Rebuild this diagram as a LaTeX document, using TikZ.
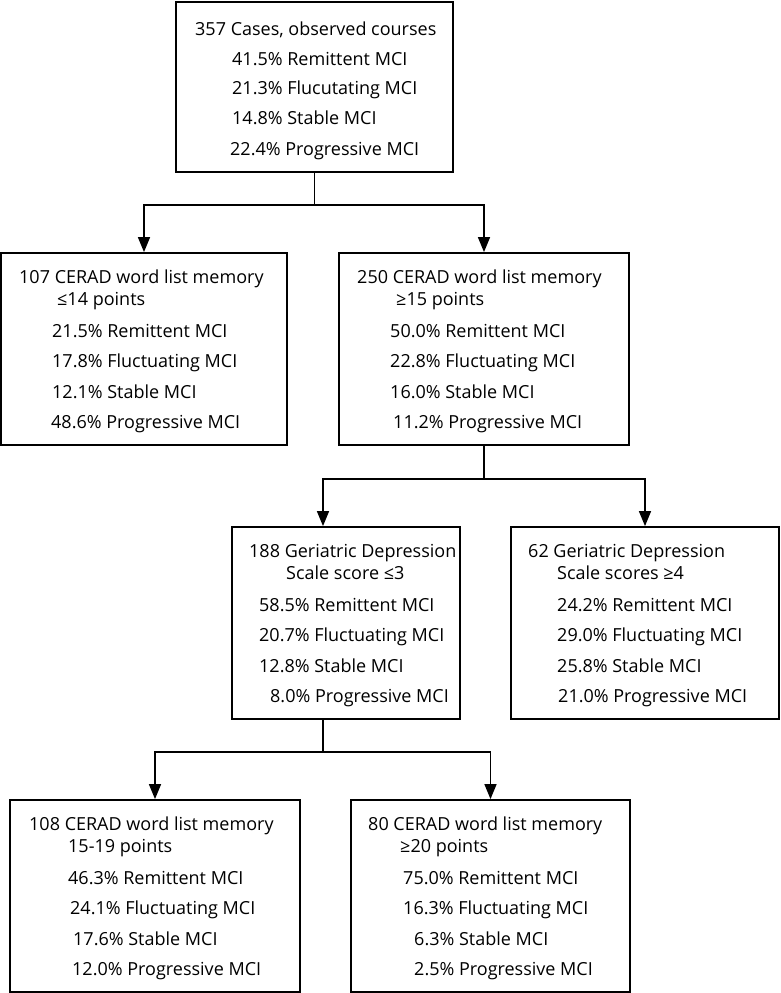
\documentclass[tikz,border=0pt]{standalone}
\usepackage{fontspec}
\setmainfont{Open Sans}
\usetikzlibrary{arrows.meta}
\begin{document}
\begin{tikzpicture}[x=1pt,y=-1pt,
  box/.style 2 args={draw, line width=1.8pt, inner sep=0pt, minimum width=#1, minimum height=#2},
  txt/.style={anchor=base west, inner sep=0pt, font=\fontsize{18}{22}\selectfont},
  conn/.style={line width=1.5pt},
  arr/.style={conn, -{Triangle[length=15pt,width=12pt]}}]
\useasboundingbox (0,0) rectangle (781,993);
% boxes
\node[box={277pt}{170pt}] (b1) at (314.5,87) {};
\node[box={286pt}{192pt}] (b2) at (144,349) {};
\node[box={290pt}{192pt}] (b3) at (484,349) {};
\node[box={228pt}{192pt}] (b4) at (346,623) {};
\node[box={268pt}{192pt}] (b5) at (645,623) {};
\node[box={290pt}{192pt}] (b6) at (155,896) {};
\node[box={279pt}{192pt}] (b7) at (490.5,896) {};
% box 1
\node[txt] (t1a) at (195,35) {357 Cases, observed courses};
\node[txt] (t1b) at (232,65) {41.5\% Remittent MCI};
\node[txt] (t1c) at (232,94) {21.3\% Flucutating MCI};
\node[txt] (t1d) at (232,124) {14.8\% Stable MCI};
\node[txt] (t1e) at (230,155) {22.4\% Progressive MCI};
% box 2
\node[txt] (t2a) at (19,283) {107 CERAD word list memory};
\node[txt] (t2b) at (57,305) {≤14 points};
\node[txt] (t2c) at (52,337) {21.5\% Remittent MCI};
\node[txt] (t2d) at (52,367) {17.8\% Fluctuating MCI};
\node[txt] (t2e) at (52,398) {12.1\% Stable MCI};
\node[txt] (t2f) at (51,428) {48.6\% Progressive MCI};
% box 3
\node[txt] (t3a) at (357,283) {250 CERAD word list memory};
\node[txt] (t3b) at (396,305) {≥15 points};
\node[txt] (t3c) at (390,337) {50.0\% Remittent MCI};
\node[txt] (t3d) at (390,367) {22.8\% Fluctuating MCI};
\node[txt] (t3e) at (390,398) {16.0\% Stable MCI};
\node[txt] (t3f) at (393,428) {11.2\% Progressive MCI};
% box 4
\node[txt] (t4a) at (249,557) {188 Geriatric Depression};
\node[txt] (t4b) at (286,579) {Scale score ≤3};
\node[txt] (t4c) at (259,611) {58.5\% Remittent MCI};
\node[txt] (t4d) at (259,641) {20.7\% Fluctuating MCI};
\node[txt] (t4e) at (259,672) {12.8\% Stable MCI};
\node[txt] (t4f) at (270,702) {8.0\% Progressive MCI};
% box 5
\node[txt] (t5a) at (528,557) {62 Geriatric Depression};
\node[txt] (t5b) at (557,579) {Scale scores ≥4};
\node[txt] (t5c) at (557,611) {24.2\% Remittent MCI};
\node[txt] (t5d) at (557,641) {29.0\% Fluctuating MCI};
\node[txt] (t5e) at (557,672) {25.8\% Stable MCI};
\node[txt] (t5f) at (558,702) {21.0\% Progressive MCI};
% box 6
\node[txt] (t6a) at (29,830) {108 CERAD word list memory};
\node[txt] (t6b) at (68,852) {15-19 points};
\node[txt] (t6c) at (68,884) {46.3\% Remittent MCI};
\node[txt] (t6d) at (70,914) {24.1\% Fluctuating MCI};
\node[txt] (t6e) at (73,945) {17.6\% Stable MCI};
\node[txt] (t6f) at (72,975) {12.0\% Progressive MCI};
% box 7
\node[txt] (t7a) at (368,830) {80 CERAD word list memory};
\node[txt] (t7b) at (400,852) {≥20 points};
\node[txt] (t7c) at (403,884) {75.0\% Remittent MCI};
\node[txt] (t7d) at (403,914) {16.3\% Fluctuating MCI};
\node[txt] (t7e) at (414,945) {6.3\% Stable MCI};
\node[txt] (t7f) at (414,975) {2.5\% Progressive MCI};
% connectors
\coordinate (j1) at (314.5,205);
\draw[conn] (b1.south) -- (j1);
\draw[arr] (j1) -| (b2.north);
\draw[arr] (j1) -| (b3.north);
\coordinate (j2) at (484,479);
\draw[conn] (b3.south) -- (j2);
\draw[arr] (j2) -| ([xshift=-23pt]b4.north);
\draw[arr] (j2) -| (b5.north);
\coordinate (j3) at (323,752);
\draw[conn] ([xshift=-23pt]b4.south) -- (j3);
\draw[arr] (j3) -| (b6.north);
\draw[arr] (j3) -| (b7.north);
\end{tikzpicture}
\end{document}
